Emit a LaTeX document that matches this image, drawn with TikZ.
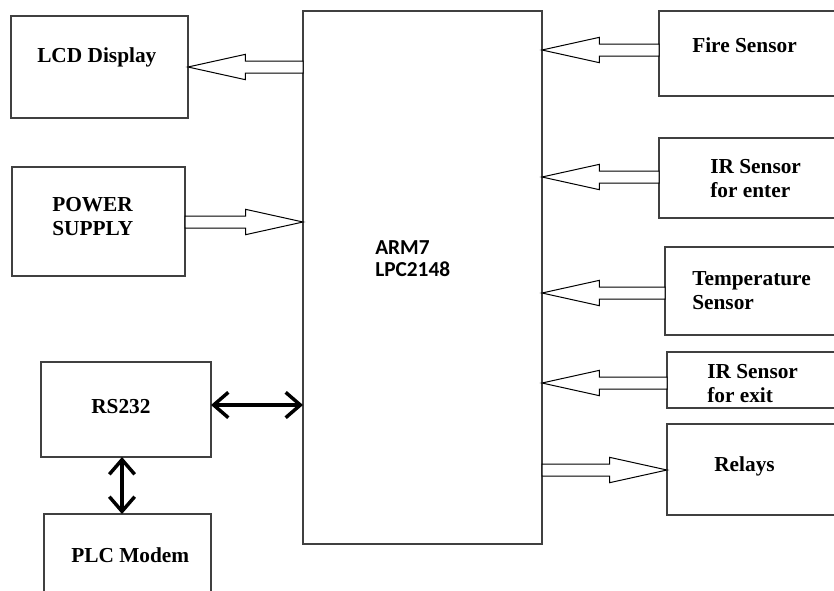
\documentclass[tikz,border=0pt]{standalone}
\usepackage{fontspec}
\setmainfont{Liberation Serif}
\newfontfamily\armfont{Carlito}
\usetikzlibrary{arrows.meta,calc}
\newlength{\px}\setlength{\px}{0.75pt}

% hollow block arrow: tail anchor, tip anchor, height
\newcommand{\hollowarrow}[3]{%
  \coordinate (ha) at (#1 |- 0,#3);
  \coordinate (ht) at (#2 |- 0,#3);
  \coordinate (hb) at ($(ht)!43pt!(ha)$);
  \draw[hollow] ($(ha)!4.5pt!90:(ht)$) -- ($(hb)!4.5pt!90:(ht)$) -- ($(hb)!9.5pt!90:(ht)$) -- (ht)
    -- ($(hb)!9.5pt!-90:(ht)$) -- ($(hb)!4.5pt!-90:(ht)$) -- ($(ha)!4.5pt!-90:(ht)$) -- cycle;
}

\begin{document}
\begin{tikzpicture}[x=0.75pt,y=-0.75pt,
  box/.style={draw=black!75,line width=0.9pt,anchor=north west,inner sep=0pt,outer sep=0pt},
  txt/.style={font=\fontsize{16}{17.5}\selectfont\bfseries,anchor=base west,inner sep=0pt,align=left},
  hollow/.style={draw=black,line width=0.75pt,fill=white},
  dbl/.style={{Straight Barb[length=11pt,width=19pt]}-{Straight Barb[length=11pt,width=19pt]},line width=2.6pt}]
  \useasboundingbox (0,0) rectangle (834,590);
  \clip (0,0) rectangle (834,590);
  % blocks
  \node[box,minimum width=177\px,minimum height=102\px] (lcd) at (11,16) {};
  \node[box,minimum width=173\px,minimum height=109\px] (power) at (12,167) {};
  \node[box,minimum width=170\px,minimum height=95\px] (rs) at (41,362) {};
  \node[box,minimum width=167\px,minimum height=110\px] (plc) at (44,514) {};
  \node[box,minimum width=239\px,minimum height=533\px] (arm) at (303,11) {};
  \node[box,minimum width=200\px,minimum height=85\px] (fire) at (659,11) {};
  \node[box,minimum width=200\px,minimum height=80\px] (irin) at (659,138) {};
  \node[box,minimum width=200\px,minimum height=88\px] (temp) at (665,247) {};
  \node[box,minimum width=200\px,minimum height=56\px] (irout) at (667,352) {};
  \node[box,minimum width=200\px,minimum height=91\px] (relay) at (667,424) {};
  % labels (base = last line)
  \node[txt] (lcdtxt) at (37,62) {LCD Display};
  \node[txt] (powertxt) at (52,235) {POWER\\SUPPLY};
  \node[txt] (rstxt) at (91,413) {RS232};
  \node[txt] (plctxt) at (71,562) {PLC Modem};
  \node[txt,font=\fontsize{16}{16.5}\selectfont\armfont\bfseries] (armtxt) at (375,276) {ARM7\\LPC2148};
  \node[txt] (firetxt) at (692,52) {Fire Sensor};
  \node[txt] (irintxt) at (710,197) {IR Sensor\\for enter};
  \node[txt] (temptxt) at (692,309) {Temperature\\Sensor};
  \node[txt] (irouttxt) at (707,402) {IR Sensor\\for exit};
  \node[txt] (relaytxt) at (714,471) {Relays};
  % hollow data arrows
  \hollowarrow{arm.west}{lcd.east}{67}
  \hollowarrow{power.east}{arm.west}{222}
  \hollowarrow{fire.west}{arm.east}{50}
  \hollowarrow{irin.west}{arm.east}{177}
  \hollowarrow{temp.west}{arm.east}{293}
  \hollowarrow{irout.west}{arm.east}{383}
  \hollowarrow{arm.east}{relay.west}{470}
  % serial links
  \draw[dbl] (rs.east |- 0,405) -- (arm.west |- 0,405);
  \draw[dbl] (rs.south -| 122,0) -- (plc.north -| 122,0);
\end{tikzpicture}
\end{document}
